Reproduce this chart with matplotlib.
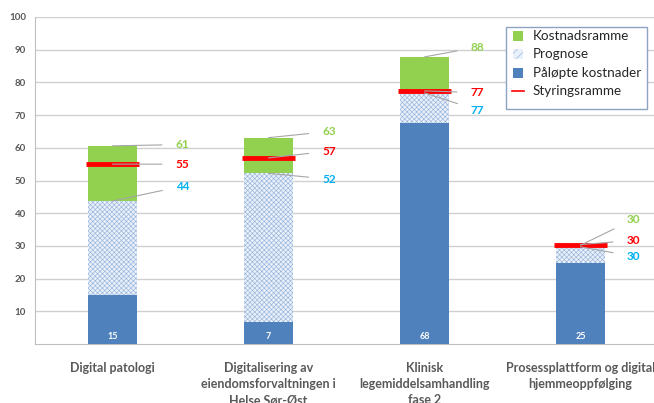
import numpy as np
import matplotlib.pyplot as plt
from matplotlib.lines import Line2D
from matplotlib.patches import Rectangle

categories = ["Digital patologi",
              "Digitalisering av\neiendomsforvaltningen i\nHelse Sør-Øst",
              "Klinisk\nlegemiddelsamhandling\nfase 2",
              "Prosessplattform og digital\nhjemmeoppfølging"]
paloepte = [14.9, 6.7, 67.6, 24.9]      # Påløpte kostnader
prognose = [43.7, 52.2, 76.8, 29.7]     # Prognose (total)
ramme = [60.6, 63.1, 87.8, 30.2]        # Kostnadsramme (total)
styring = [55.0, 56.9, 77.4, 30.4]      # Styringsramme

BLUE = '#4f81bd'
GREEN = '#92d050'
RED = '#ff0000'
CYAN = '#00b0f0'
GRAY = '#595959'

plt.rcParams['font.family'] = ['Lato', 'DejaVu Sans']
plt.rcParams['hatch.linewidth'] = 0.4

W, H = 654, 403
fig = plt.figure(figsize=(W / 100, H / 100), dpi=100)
ax = fig.add_axes([34.5 / W, 59 / H, 624 / W, 327 / H])

x = np.arange(len(categories))
w = 0.315
p = np.array(paloepte)
pr = np.array(prognose)
r = np.array(ramme)

ax.bar(x, p, w, color=BLUE, linewidth=0, zorder=3)
ax.bar(x, pr - p, w, bottom=p, facecolor='#eaf0f9', edgecolor='#8fb0da',
       hatch='xxxxxxx', linewidth=0, zorder=3)
ax.bar(x, np.clip(r - pr, 0, None), w, bottom=pr, color=GREEN,
       linewidth=0, zorder=3)
ax.hlines(styring, x - w / 2 - 0.01, x + w / 2 + 0.01, colors=RED, linewidth=3.5,
          zorder=4)

# values inside blue bars
for xi, v in zip(x, paloepte):
    ax.text(xi, 2.2, f'{v:.0f}', ha='center', va='center', color='white',
            fontsize=6.5, fontweight='bold', zorder=5)

# callout labels (label x offset, y positions of labels in data units)
dx = [0.45, 0.39, 0.34, 0.34]
ylab = [(61, 55, 48.3), (65, 59, 50.4), (90.8, 76.9, 71.5), (38.1, 31.7, 26.8)]
for i in range(len(categories)):
    vals = [ramme[i], styring[i], prognose[i]]
    cols = [GREEN, RED, CYAN]
    for v, yl, c in zip(vals, ylab[i], cols):
        ax.annotate(f'{v:.0f}', xy=(x[i], v), xytext=(x[i] + dx[i], yl),
                    ha='center', va='center', color=c, fontsize=8.5,
                    fontweight='bold', zorder=6,
                    arrowprops=dict(arrowstyle='-', color='#a6a6a6', lw=0.8,
                                    shrinkA=8, shrinkB=0))

ax.set_xlim(-0.5, len(categories) - 0.5)
ax.set_ylim(0, 100)
ax.set_yticks(np.arange(10, 101, 10))
ax.set_xticks(x)
ax.set_xticklabels(categories, fontsize=9.0, fontweight='bold', color=GRAY,
                   linespacing=1.4)
ax.tick_params(axis='x', length=0, pad=13)
ax.tick_params(axis='y', length=0, pad=6, labelsize=7, labelcolor=GRAY)
for t in ax.get_yticklabels():
    t.set_fontweight('bold')
ax.grid(axis='y', color='#d0d0d0', linewidth=1, zorder=0)
for s in ['top', 'right']:
    ax.spines[s].set_visible(False)
ax.spines['left'].set_color('#bfbfbf')
ax.spines['bottom'].set_color('#bfbfbf')

# legend box drawn by hand (pixel layout, top-left origin)
labels = ['Kostnadsramme', 'Prognose', 'Påløpte kostnader', 'Styringsramme']
fx = lambda px: px / W
fy = lambda py: 1 - py / H
fig.patches.append(Rectangle((fx(506), fy(109)), fx(647) - fx(506), fy(27) - fy(109),
                             transform=fig.transFigure, facecolor='white',
                             edgecolor='#8ea2c4', lw=1, zorder=10))
rows = [36, 54, 73, 91]
for k, (lab, yc) in enumerate(zip(labels, rows)):
    if k < 3:
        kw = [dict(facecolor=GREEN, lw=0),
              dict(facecolor='#eaf0f9', edgecolor='#8fb0da', hatch='////', lw=0),
              dict(facecolor=BLUE, lw=0)][k]
        fig.patches.append(Rectangle((fx(513), fy(yc + 5)), fx(523) - fx(513),
                                     fy(yc - 5) - fy(yc + 5),
                                     transform=fig.transFigure, zorder=11, **kw))
    else:
        fig.lines.append(Line2D([fx(512), fx(524)], [fy(yc), fy(yc)],
                                transform=fig.transFigure, color=RED, lw=1.2,
                                zorder=11))
    fig.text(fx(533), fy(yc), lab, ha='left', va='center', fontsize=9.7,
             color='#262626', zorder=12)

fig.savefig('out.png', dpi=100)
